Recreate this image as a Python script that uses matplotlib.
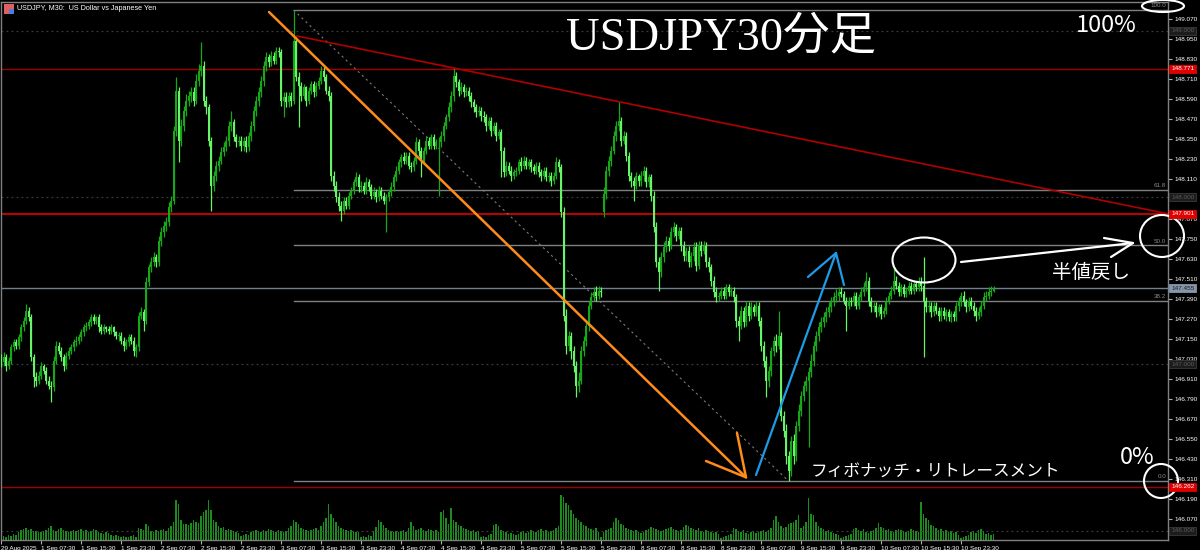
import matplotlib
matplotlib.use('Agg')
import matplotlib.pyplot as plt
import matplotlib.transforms as mtransforms
from matplotlib.patches import Ellipse, Rectangle
import numpy as np

plt.rcParams['font.family'] = ['Liberation Sans', 'Noto Sans CJK JP', 'DejaVu Sans']

# ---------------- data (USDJPY M30, 29 Aug 23:30 -> 11 Sep 06:00) ----------------
first_open = 147.03
weekend_gap_index = 241      # 8 Sep 00:00 bar (gap open after weekend)
monday_open = 147.91

closes = [
    147.01, 147.04, 146.99, 147.02, 147.10, 147.13, 147.11, 147.16, 147.22, 147.26, 147.32, 147.28, 147.04, 146.92, 146.90, 146.93,
    146.99, 146.96, 146.90, 146.87, 146.86, 147.02, 147.11, 147.08, 147.04, 146.99, 147.05, 147.08, 147.10, 147.13, 147.14, 147.16,
    147.19, 147.22, 147.23, 147.25, 147.28, 147.26, 147.28, 147.22, 147.20, 147.22, 147.21, 147.20, 147.22, 147.19, 147.17, 147.17,
    147.14, 147.11, 147.13, 147.16, 147.14, 147.08, 147.10, 147.29, 147.31, 147.26, 147.49, 147.58, 147.61, 147.64, 147.61, 147.74,
    147.79, 147.83, 147.85, 147.94, 147.98, 148.40, 148.64, 148.34, 148.43, 148.52, 148.58, 148.61, 148.63, 148.58, 148.70, 148.76,
    148.79, 148.58, 148.54, 148.34, 148.07, 148.13, 148.19, 148.22, 148.27, 148.30, 148.34, 148.43, 148.45, 148.36, 148.33, 148.34,
    148.31, 148.34, 148.30, 148.37, 148.43, 148.52, 148.58, 148.63, 148.70, 148.79, 148.84, 148.81, 148.85, 148.82, 148.88, 148.87,
    148.58, 148.60, 148.57, 148.61, 148.58, 148.94, 148.72, 148.67, 148.61, 148.66, 148.58, 148.64, 148.68, 148.63, 148.67, 148.70,
    148.76, 148.72, 148.64, 148.61, 148.13, 148.07, 148.00, 147.95, 147.92, 147.98, 147.95, 148.01, 148.04, 148.09, 148.12, 148.06,
    148.07, 148.04, 148.09, 148.06, 148.01, 148.03, 148.00, 148.04, 148.01, 147.98, 148.00, 148.03, 148.06, 148.12, 148.16, 148.21,
    148.24, 148.22, 148.25, 148.19, 148.18, 148.22, 148.33, 148.28, 148.22, 148.28, 148.34, 148.31, 148.36, 148.31, 148.33, 148.33,
    148.37, 148.43, 148.48, 148.54, 148.61, 148.73, 148.69, 148.64, 148.66, 148.63, 148.64, 148.61, 148.57, 148.54, 148.51, 148.52,
    148.49, 148.48, 148.43, 148.46, 148.40, 148.43, 148.37, 148.39, 148.28, 148.15, 148.19, 148.16, 148.13, 148.15, 148.16, 148.21,
    148.19, 148.22, 148.19, 148.21, 148.18, 148.16, 148.19, 148.15, 148.13, 148.16, 148.12, 148.13, 148.10, 148.13, 148.21, 148.18,
    147.91, 147.29, 147.11, 147.17, 147.08, 146.99, 146.87, 146.90, 147.08, 147.14, 147.23, 147.35, 147.40, 147.43, 147.41, 147.44,
    147.43, 148.02, 148.16, 148.22, 148.28, 148.37, 148.43, 148.46, 148.34, 148.37, 148.25, 148.13, 148.10, 148.07, 148.13, 148.10,
    148.13, 148.16, 148.09, 148.12, 148.01, 147.82, 147.61, 147.55, 147.64, 147.70, 147.74, 147.71, 147.79, 147.82, 147.77, 147.80,
    147.71, 147.65, 147.68, 147.61, 147.65, 147.70, 147.59, 147.71, 147.68, 147.71, 147.61, 147.58, 147.50, 147.43, 147.40, 147.41,
    147.44, 147.41, 147.46, 147.43, 147.44, 147.40, 147.26, 147.23, 147.32, 147.25, 147.35, 147.29, 147.34, 147.31, 147.35, 147.26,
    147.11, 147.02, 146.90, 146.96, 147.08, 147.14, 147.11, 147.17, 146.69, 146.60, 146.45, 146.36, 146.54, 146.45, 146.63, 146.72,
    146.81, 146.87, 146.90, 146.95, 147.02, 147.11, 147.17, 147.22, 147.25, 147.28, 147.31, 147.34, 147.37, 147.40, 147.41, 147.43,
    147.42, 147.38, 147.35, 147.38, 147.37, 147.41, 147.35, 147.40, 147.43, 147.46, 147.50, 147.38, 147.34, 147.35, 147.31, 147.34,
    147.30, 147.32, 147.38, 147.41, 147.44, 147.50, 147.47, 147.43, 147.46, 147.42, 147.44, 147.47, 147.44, 147.48, 147.46, 147.49,
    147.47, 147.38, 147.34, 147.35, 147.31, 147.35, 147.32, 147.29, 147.32, 147.29, 147.31, 147.28, 147.30, 147.28, 147.35, 147.38,
    147.41, 147.37, 147.34, 147.38, 147.35, 147.32, 147.29, 147.31, 147.35, 147.40, 147.41, 147.43, 147.44, 147.455,
]

highs = [
    147.06, 147.07, 147.06, 147.04, 147.12, 147.15, 147.15, 147.18, 147.24, 147.28, 147.36, 147.34, 147.30, 147.06, 146.95, 146.96,
    147.01, 147.00, 146.98, 146.93, 146.90, 147.05, 147.14, 147.13, 147.10, 147.06, 147.07, 147.10, 147.12, 147.15, 147.17, 147.18,
    147.21, 147.24, 147.25, 147.27, 147.30, 147.30, 147.29, 147.30, 147.24, 147.24, 147.23, 147.23, 147.24, 147.23, 147.20, 147.19,
    147.19, 147.16, 147.15, 147.18, 147.18, 147.16, 147.12, 147.31, 147.34, 147.33, 147.52, 147.60, 147.64, 147.67, 147.66, 147.77,
    147.82, 147.86, 147.88, 147.97, 148.01, 148.43, 148.72, 148.66, 148.47, 148.55, 148.62, 148.64, 148.66, 148.66, 148.74, 148.80,
    148.93, 148.82, 148.61, 148.56, 148.36, 148.16, 148.22, 148.25, 148.30, 148.33, 148.37, 148.46, 148.52, 148.47, 148.38, 148.37,
    148.37, 148.36, 148.37, 148.39, 148.46, 148.55, 148.61, 148.66, 148.73, 148.82, 148.87, 148.86, 148.88, 148.87, 148.90, 148.90,
    148.89, 148.63, 148.63, 148.63, 148.63, 149.12, 148.96, 148.75, 148.69, 148.68, 148.67, 148.66, 148.70, 148.70, 148.69, 148.72,
    148.79, 148.78, 148.74, 148.67, 148.63, 148.16, 148.10, 148.03, 147.98, 148.00, 148.00, 148.03, 148.06, 148.11, 148.15, 148.14,
    148.10, 148.09, 148.12, 148.11, 148.08, 148.06, 148.05, 148.07, 148.06, 148.03, 148.02, 148.05, 148.09, 148.14, 148.19, 148.23,
    148.26, 148.27, 148.27, 148.27, 148.21, 148.24, 148.36, 148.35, 148.30, 148.30, 148.37, 148.36, 148.38, 148.38, 148.35, 148.36,
    148.40, 148.45, 148.50, 148.57, 148.64, 148.78, 148.75, 148.71, 148.69, 148.68, 148.66, 148.66, 148.63, 148.59, 148.56, 148.55,
    148.54, 148.52, 148.50, 148.48, 148.48, 148.45, 148.45, 148.41, 148.41, 148.30, 148.22, 148.21, 148.19, 148.17, 148.18, 148.23,
    148.24, 148.25, 148.24, 148.23, 148.23, 148.20, 148.21, 148.21, 148.17, 148.18, 148.18, 148.15, 148.15, 148.15, 148.24, 148.23,
    148.20, 147.94, 147.33, 147.20, 147.19, 147.11, 147.02, 146.95, 147.11, 147.17, 147.26, 147.38, 147.43, 147.46, 147.47, 147.47,
    147.46, 148.06, 148.19, 148.25, 148.31, 148.40, 148.46, 148.57, 148.48, 148.40, 148.39, 148.27, 148.15, 148.12, 148.15, 148.14,
    148.16, 148.19, 148.18, 148.14, 148.14, 148.04, 147.85, 147.64, 147.67, 147.73, 147.77, 147.76, 147.82, 147.85, 147.84, 147.82,
    147.82, 147.74, 147.70, 147.71, 147.67, 147.73, 147.73, 147.74, 147.74, 147.74, 147.73, 147.64, 147.60, 147.53, 147.46, 147.43,
    147.46, 147.46, 147.48, 147.48, 147.46, 147.46, 147.42, 147.29, 147.35, 147.34, 147.38, 147.37, 147.37, 147.36, 147.38, 147.37,
    147.28, 147.14, 147.05, 146.99, 147.10, 147.17, 147.18, 147.32, 147.19, 146.72, 146.64, 146.48, 146.57, 146.58, 146.66, 146.76,
    146.84, 146.90, 146.93, 146.98, 147.06, 147.14, 147.20, 147.25, 147.28, 147.31, 147.34, 147.37, 147.40, 147.43, 147.45, 147.46,
    147.46, 147.44, 147.40, 147.40, 147.40, 147.43, 147.43, 147.42, 147.46, 147.49, 147.55, 147.52, 147.40, 147.37, 147.37, 147.36,
    147.36, 147.34, 147.40, 147.43, 147.47, 147.58, 147.53, 147.49, 147.48, 147.48, 147.46, 147.49, 147.49, 147.50, 147.50, 147.52,
    147.52, 147.64, 147.40, 147.38, 147.37, 147.37, 147.37, 147.34, 147.34, 147.34, 147.33, 147.33, 147.32, 147.32, 147.37, 147.40,
    147.43, 147.44, 147.39, 147.40, 147.40, 147.37, 147.34, 147.34, 147.38, 147.43, 147.44, 147.46, 147.47, 147.47,
]

lows = [
    146.98, 146.99, 146.96, 146.97, 147.00, 147.08, 147.09, 147.09, 147.14, 147.20, 147.24, 147.26, 147.02, 146.86, 146.87, 146.88,
    146.91, 146.94, 146.88, 146.85, 146.77, 146.84, 147.00, 147.06, 147.02, 146.96, 146.97, 147.03, 147.06, 147.08, 147.11, 147.12,
    147.14, 147.17, 147.20, 147.21, 147.23, 147.24, 147.24, 147.19, 147.18, 147.18, 147.19, 147.18, 147.18, 147.17, 147.15, 147.14,
    147.12, 147.08, 147.09, 147.11, 147.12, 147.05, 147.04, 147.08, 147.27, 147.20, 147.24, 147.47, 147.55, 147.59, 147.58, 147.59,
    147.71, 147.76, 147.80, 147.83, 147.91, 147.96, 148.37, 148.21, 148.31, 148.40, 148.49, 148.55, 148.57, 148.55, 148.56, 148.67,
    148.73, 148.55, 148.50, 148.31, 147.92, 148.04, 148.10, 148.16, 148.20, 148.25, 148.28, 148.31, 148.40, 148.34, 148.30, 148.31,
    148.28, 148.28, 148.27, 148.28, 148.34, 148.40, 148.49, 148.55, 148.60, 148.67, 148.76, 148.78, 148.79, 148.80, 148.80, 148.84,
    148.55, 148.48, 148.54, 148.54, 148.55, 148.56, 148.70, 148.42, 148.58, 148.59, 148.55, 148.56, 148.62, 148.60, 148.61, 148.65,
    148.68, 148.70, 148.62, 148.58, 148.10, 148.04, 147.97, 147.92, 147.86, 147.90, 147.93, 147.93, 147.99, 148.02, 148.07, 148.03,
    148.03, 148.02, 148.02, 148.04, 147.99, 147.99, 147.97, 147.98, 147.99, 147.96, 147.79, 147.98, 148.01, 148.04, 148.10, 148.14,
    148.18, 148.20, 148.20, 148.17, 148.15, 148.16, 148.20, 148.25, 148.12, 148.20, 148.26, 148.29, 148.29, 148.29, 148.29, 148.01,
    148.30, 148.34, 148.41, 148.46, 148.51, 148.58, 148.66, 148.61, 148.62, 148.60, 148.61, 148.58, 148.54, 148.51, 148.48, 148.49,
    148.46, 148.45, 148.40, 148.41, 148.37, 148.38, 148.34, 148.35, 148.12, 148.12, 148.13, 148.14, 148.10, 148.11, 148.13, 148.14,
    148.16, 148.17, 148.17, 148.17, 148.15, 148.14, 148.14, 148.12, 148.10, 148.11, 148.10, 148.09, 148.07, 148.08, 148.11, 148.15,
    147.88, 147.26, 147.06, 147.08, 147.03, 146.95, 146.80, 146.83, 146.88, 147.05, 147.11, 147.20, 147.33, 147.38, 147.38, 147.39,
    147.40, 147.88, 147.99, 148.13, 148.19, 148.26, 148.34, 148.40, 148.31, 148.32, 148.22, 148.10, 148.06, 147.98, 148.05, 148.07,
    148.07, 148.10, 148.06, 148.06, 147.98, 147.79, 147.58, 147.44, 147.52, 147.61, 147.67, 147.68, 147.69, 147.76, 147.74, 147.75,
    147.68, 147.62, 147.62, 147.58, 147.58, 147.62, 147.56, 147.57, 147.65, 147.66, 147.58, 147.55, 147.47, 147.40, 147.37, 147.38,
    147.39, 147.39, 147.39, 147.41, 147.41, 147.37, 147.22, 147.14, 147.21, 147.22, 147.23, 147.26, 147.27, 147.29, 147.29, 147.23,
    147.08, 146.98, 146.80, 146.86, 146.93, 147.05, 147.07, 147.09, 146.66, 146.56, 146.40, 146.30, 146.33, 146.40, 146.42, 146.60,
    146.69, 146.78, 146.84, 146.50, 146.92, 146.99, 147.08, 147.14, 147.19, 147.22, 147.25, 147.28, 147.31, 147.35, 147.37, 147.38,
    147.40, 147.36, 147.20, 147.33, 147.35, 147.35, 147.33, 147.33, 147.38, 147.41, 147.44, 147.35, 147.31, 147.31, 147.28, 147.29,
    147.27, 147.28, 147.30, 147.36, 147.39, 147.42, 147.45, 147.41, 147.41, 147.40, 147.40, 147.42, 147.42, 147.42, 147.44, 147.44,
    147.44, 147.04, 147.31, 147.31, 147.28, 147.29, 147.30, 147.26, 147.26, 147.27, 147.26, 147.26, 147.25, 147.26, 147.26, 147.32,
    147.35, 147.35, 147.31, 147.32, 147.33, 147.29, 147.26, 147.27, 147.29, 147.33, 147.38, 147.39, 147.41, 147.43,
]

tick_volumes = [  # hundreds of ticks
    3, 4, 3, 5, 4, 6, 5, 8, 10, 11, 12, 10, 11, 9, 9, 8,
    8, 9, 10, 12, 14, 10, 9, 11, 12, 10, 9, 8, 9, 10, 9, 10,
    11, 9, 10, 8, 9, 11, 10, 8, 7, 6, 8, 7, 5, 4, 5, 4,
    3, 4, 3, 3, 4, 5, 3, 12, 11, 10, 16, 14, 9, 8, 10, 9,
    10, 11, 9, 12, 14, 18, 40, 36, 20, 16, 16, 15, 17, 20, 18, 17,
    24, 28, 30, 40, 30, 20, 18, 14, 12, 13, 10, 11, 10, 9, 8, 7,
    4, 5, 6, 5, 8, 9, 10, 9, 8, 10, 9, 11, 10, 9, 8, 10,
    9, 8, 9, 12, 14, 20, 18, 16, 12, 11, 10, 9, 10, 11, 12, 10,
    14, 18, 22, 36, 26, 22, 18, 14, 12, 11, 10, 9, 10, 9, 8, 8,
    3, 4, 3, 5, 4, 9, 13, 20, 18, 15, 12, 10, 9, 8, 9, 8,
    9, 10, 8, 12, 18, 14, 10, 11, 12, 10, 9, 11, 10, 9, 10, 8,
    28, 30, 22, 16, 32, 20, 18, 15, 14, 12, 11, 10, 9, 10, 8, 9,
    3, 4, 3, 5, 6, 15, 16, 14, 10, 9, 8, 6, 7, 6, 5, 6,
    8, 9, 7, 8, 10, 9, 8, 10, 11, 9, 10, 8, 9, 10, 12, 14,
    45, 43, 37, 35, 30, 26, 22, 20, 18, 15, 14, 12, 11, 10, 12, 8,
    3, 8, 10, 11, 12, 18, 22, 20, 16, 15, 12, 11, 10, 9, 10, 8,
    7, 8, 10, 11, 13, 12, 11, 10, 9, 10, 11, 12, 13, 11, 10, 9,
    10, 13, 15, 14, 12, 11, 10, 12, 9, 8, 10, 9, 8, 7, 8, 6,
    2, 3, 4, 5, 6, 12, 11, 9, 8, 10, 7, 6, 8, 9, 7, 8,
    9, 10, 8, 10, 12, 20, 24, 18, 14, 12, 13, 16, 17, 18, 20, 25,
    12, 14, 18, 42, 26, 25, 18, 14, 12, 11, 9, 10, 8, 7, 6, 5,
    2, 3, 4, 5, 6, 11, 12, 10, 9, 11, 8, 7, 9, 10, 12, 17,
    13, 12, 10, 11, 9, 8, 10, 11, 10, 9, 8, 9, 11, 10, 9, 8,
    38, 26, 22, 20, 15, 14, 12, 10, 11, 9, 10, 8, 9, 7, 8, 5,
    2, 3, 4, 5, 8, 9, 7, 10, 11, 9, 6, 7, 5, 6,
]

time_labels = ['29 Aug 2025', '1 Sep 07:30', '1 Sep 15:30', '1 Sep 23:30', '2 Sep 07:30', '2 Sep 15:30',
               '2 Sep 23:30', '3 Sep 07:30', '3 Sep 15:30', '3 Sep 23:30', '4 Sep 07:30', '4 Sep 15:30',
               '4 Sep 23:30', '5 Sep 07:30', '5 Sep 15:30', '5 Sep 23:30', '8 Sep 07:30', '8 Sep 15:30',
               '8 Sep 23:30', '9 Sep 07:30', '9 Sep 15:30', '9 Sep 23:30', '10 Sep 07:30', '10 Sep 15:30',
               '10 Sep 23:30']
bars_per_label = 16

# 147.990 is hidden behind the 148.000 box in the reference
price_ticks = [149.070, 148.950, 148.830, 148.710, 148.590, 148.470, 148.350, 148.230, 148.110,
               147.870, 147.750, 147.630, 147.510, 147.390, 147.270, 147.150, 147.030, 146.910, 146.790,
               146.670, 146.550, 146.430, 146.310, 146.190, 146.070]

round_levels = [149.000, 148.000, 147.000, 146.000]
red_levels = [148.771, 146.262]
trend_level = 147.901
bid_price = 147.455

fib_high = 149.124
fib_low = 146.298
fib_ratios = [1.0, 0.618, 0.5, 0.382, 0.0]
fib_names = ['100.0', '61.8', '50.0', '38.2', '0.0']
fib_high_bar = 117
fib_low_bar = 315

# drawn objects (bar index, price)
trend_start = (118.4, 148.968)
orange_line = [(107.2, 149.112), (298.0, 146.320)]
orange_head = [(282.0, 146.418), (298.0, 146.320), (294.4, 146.586)]
blue_line = [(302.0, 146.334), (334.0, 147.666)]
blue_head = [(322.8, 147.522), (334.0, 147.666), (337.2, 147.474)]
white_line = [(384.0, 147.612), (452.8, 147.726)]
white_head = [(441.2, 147.756), (452.8, 147.726), (444.0, 147.642)]

# ---------------- figure ----------------
n = len(closes)
x = np.arange(n)
opens = [first_open] + closes[:-1]
opens[weekend_gap_index] = monday_open
o = np.array(opens); c = np.array(closes); h = np.array(highs); l = np.array(lows)
h = np.maximum(h, np.maximum(o, c)); l = np.minimum(l, np.minimum(o, c))

XMIN, XMAX = 0.0, 466.8
YMIN, YMAX = 145.944, 149.172

fig = plt.figure(figsize=(12, 5.5), dpi=100, facecolor='black')
rect = [1 / 1200, 10 / 550, 1167 / 1200, 538 / 550]
axv = fig.add_axes(rect, facecolor='black')
ax = fig.add_axes(rect, facecolor='none')
axv.set_xlim(XMIN, XMAX); axv.set_ylim(0, 538); axv.axis('off')
axv.bar(x, tick_volumes, width=0.45, color='#1c8c1c', linewidth=0)

ax.set_xlim(XMIN, XMAX); ax.set_ylim(YMIN, YMAX)

# grid-like lines
for p in round_levels:
    ax.axhline(p, color='#3c3c3c', lw=0.9, ls=(0, (1.5, 2.5)), zorder=1)
for p in red_levels:
    ax.axhline(p, color='#a00000', lw=1.0, zorder=1)
ax.axhline(trend_level, color='#c00000', lw=1.4, zorder=1)
ax.axhline(bid_price, color='#6f8090', lw=1.0, zorder=1)

fib_prices = [fib_low + r * (fib_high - fib_low) for r in fib_ratios]
for fp, nm in zip(fib_prices, fib_names):
    ax.plot([fib_high_bar, XMAX], [fp, fp], color='#808080', lw=1.0, zorder=1.5)
    ax.text(XMAX - 0.8, fp + 0.01, nm, color='#8a8a8a', fontsize=4.5, ha='right', va='bottom', zorder=6)
ax.plot([fib_high_bar, fib_low_bar], [fib_high, fib_low], color='#7a7a7a', lw=0.8,
        ls=(0, (2, 3)), zorder=1.5)

# candles
up = c >= o
cols = np.where(up, '#16a816', '#66f566')
ax.vlines(x, l, h, colors=cols, linewidth=0.9, zorder=3)
body_h = np.maximum(np.abs(c - o), 0.004)
ax.bar(x, body_h, bottom=np.minimum(o, c), width=0.65, color=cols, linewidth=0, zorder=3)

# trend line
ax.plot([trend_start[0], XMAX], [trend_start[1], trend_level], color='#b00000', lw=1.2, zorder=4)

# arrows drawn by hand
def poly(pts, **kw):
    ax.plot([p[0] for p in pts], [p[1] for p in pts], solid_capstyle='round', **kw)

poly(orange_line, color='#ff8c1a', lw=1.8, zorder=5)
poly(orange_head, color='#ff8c1a', lw=1.8, zorder=5)
poly(blue_line, color='#1e9be6', lw=1.6, zorder=5)
poly(blue_head, color='#1e9be6', lw=1.6, zorder=5)
poly(white_line, color='white', lw=1.6, zorder=5)
poly(white_head, color='white', lw=1.6, zorder=5)

for (cx, cy, w, hh) in [(369.2, 147.624, 25.2, 0.27), (464.4, 147.768, 17.6, 0.252),
                        (464.8, 149.148, 16.8, 0.072), (464.0, 146.298, 13.6, 0.204)]:
    ax.add_patch(Ellipse((cx, cy), w, hh, fill=False, ec='white', lw=1.5, zorder=7, clip_on=False))

# texts
ax.text(288.0, 148.956, 'USDJPY30分足', color='white', fontsize=33.5, ha='center', va='center',
        family=['Liberation Serif', 'Noto Sans CJK JP'], zorder=6)
ax.text(442.0, 149.034, '100%', color='white', fontsize=17, ha='center', va='center',
        family=['Noto Sans CJK JP'], zorder=6)
ax.text(454.5, 146.436, '0%', color='white', fontsize=17, ha='center', va='center',
        family=['Noto Sans CJK JP'], zorder=6)
ax.text(436.0, 147.546, '半値戻し', color='white', fontsize=14, ha='center', va='center',
        family=['Noto Sans CJK JP'], zorder=6)
ax.text(324.0, 146.358, 'フィボナッチ・リトレースメント', color='white', fontsize=12, ha='left', va='center',
        family=['Noto Sans CJK JP'], zorder=6)

fig.text(17 / 1200, 1 - 8 / 550, 'USDJPY, M30:  US Dollar vs Japanese Yen', color='white',
         fontsize=5.2, ha='left', va='center')
fig.patches.append(Rectangle((4 / 1200, 1 - 14 / 550), 10 / 1200, 10 / 550, transform=fig.transFigure,
                             fc='#e06060', ec='none'))
fig.patches.append(Rectangle((9 / 1200, 1 - 14 / 550), 5 / 1200, 5 / 550, transform=fig.transFigure,
                             fc='#4080e0', ec='none'))

# axes styling
for s in ax.spines.values():
    s.set_color('#808080'); s.set_linewidth(1.0)
ax.yaxis.tick_right()
ax.set_yticks(price_ticks)
ax.set_yticklabels(['%.3f' % p for p in price_ticks])
ax.tick_params(axis='y', colors='#b0b0b0', labelcolor='white', labelsize=4.6, length=3, pad=1.5, width=0.8)
ax.set_xticks(np.arange(len(time_labels)) * bars_per_label)
ax.set_xticklabels(time_labels)
ax.tick_params(axis='x', colors='#b0b0b0', labelcolor='white', labelsize=4.6, length=3, pad=1.0, width=0.8)
for lab in ax.get_xticklabels():
    lab.set_ha('left')

# price boxes on the axis
btr = mtransforms.blended_transform_factory(ax.transAxes, ax.transData)
boxes = [('149.000', 149.000, '#1c1c1c', '#5a5a5a'), ('148.771', 148.771, '#e00000', 'white'),
         ('148.000', 148.000, '#1c1c1c', '#5a5a5a'), ('147.901', trend_level, '#e00000', 'white'),
         ('147.455', bid_price, '#8596aa', '#1a1a1a'), ('147.000', 147.000, '#1c1c1c', '#5a5a5a'),
         ('146.262', 146.262, '#e00000', 'white'), ('146.000', 146.000, '#1c1c1c', '#5a5a5a')]
for txt, p, fc, tc in boxes:
    ax.text(1.0 + 3 / 1167, p, txt, transform=btr, color=tc, fontsize=4.6, ha='left', va='center',
            bbox=dict(boxstyle='square,pad=0.25', fc=fc, ec='#3a3a3a' if fc == '#1c1c1c' else fc, lw=0.6),
            clip_on=False, zorder=8)

fig.savefig('out.png', dpi=100, facecolor='black')
